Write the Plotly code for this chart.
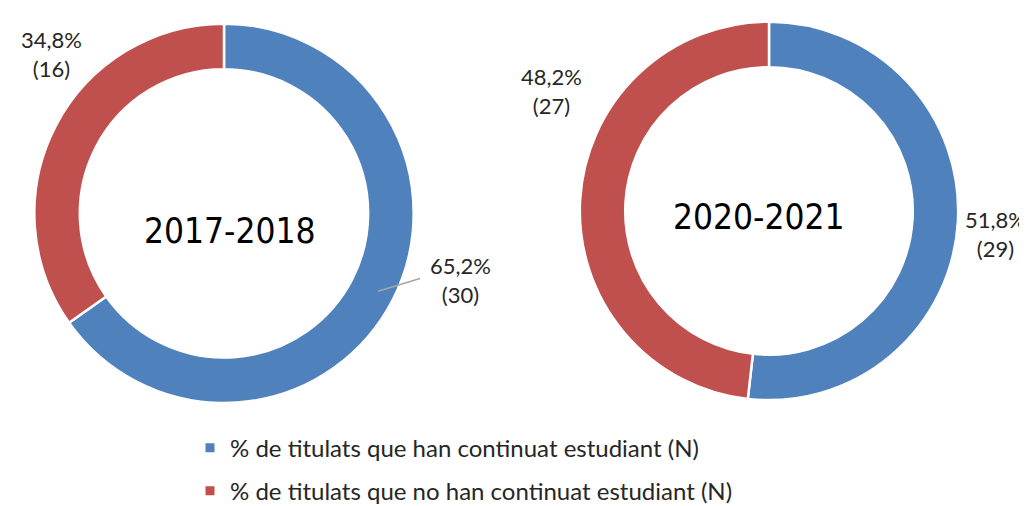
import plotly.graph_objects as go

# Dades
periods = ['2017-2018', '2020-2021']
labels = ['% de titulats que han continuat estudiant (N)',
          '% de titulats que no han continuat estudiant (N)']
continued = [30, 29]
not_continued = [16, 27]

COLORS = ['#4F81BD', '#C0504D']
W, H = 1027, 506
FONT = 'Lato, Liberation Sans, sans-serif'
TITLE_FONT = 'DejaVu Sans Condensed, sans-serif'


def px(x, y):
    return x / W, 1 - y / H


# posicions (px) dels anells i etiquetes
rings = [((22, 410), (16, 403)), ((567, 955), (14, 400))]
centers = [(222, 228), (751, 213)]
label_pos = [[(452, 277), (43, 47)], [(987, 231), (543, 85)]]

fig = go.Figure()

for i, period in enumerate(periods):
    vals = [continued[i], not_continued[i]]
    total = sum(vals)
    (x0, x1), (y0, y1) = rings[i]
    fig.add_trace(go.Pie(
        values=vals,
        labels=labels,
        hole=0.76,
        sort=False,
        direction='clockwise',
        rotation=0,
        marker=dict(colors=COLORS, line=dict(color='white', width=2.5)),
        textinfo='none',
        hoverinfo='label+value+percent',
        showlegend=False,
        domain=dict(x=[x0 / W, x1 / W], y=[1 - y1 / H, 1 - y0 / H]),
    ))
    cx, cy = px(*centers[i])
    fig.add_annotation(x=cx, y=cy, xref='paper', yref='paper', text=period,
                       xanchor='center', yanchor='middle', showarrow=False,
                       font=dict(size=35, color='black', family=TITLE_FONT))
    for v, (lx, ly) in zip(vals, label_pos[i]):
        pct = f'{100 * v / total:.1f}'.replace('.', ',')
        ax, ay = px(lx, ly)
        fig.add_annotation(x=ax, y=ay, xref='paper', yref='paper',
                           text=f'{pct}%<br>({v})', showarrow=False,
                           xanchor='center', yanchor='middle',
                           font=dict(size=22, color='#262626', family=FONT))

# línia guia de l'etiqueta 65,2%
lx0, ly0 = px(370, 289)
lx1, ly1 = px(412, 276)
fig.add_shape(type='line', xref='paper', yref='paper', x0=lx0, y0=ly0, x1=lx1, y1=ly1,
              line=dict(color='#A6A6A6', width=1.5))

# llegenda
for j, (lab, col) in enumerate(zip(labels, COLORS)):
    fig.add_trace(go.Scatter(
        x=[None], y=[None], mode='markers', name=lab,
        marker=dict(symbol='square', size=9, color=col),
        legend='legend' if j == 0 else 'legend2',
    ))

leg_style = dict(xanchor='left', yanchor='middle', bgcolor='rgba(0,0,0,0)',
                 font=dict(size=24, color='#262626', family=FONT))
fig.update_layout(
    width=W, height=H,
    margin=dict(l=0, r=0, t=0, b=0),
    paper_bgcolor='white', plot_bgcolor='white',
    xaxis=dict(visible=False), yaxis=dict(visible=False),
    legend=dict(x=182 / W, y=1 - 449 / H, **leg_style),
    legend2=dict(x=182 / W, y=1 - 493 / H, **leg_style),
)

fig.write_html('out.html')
